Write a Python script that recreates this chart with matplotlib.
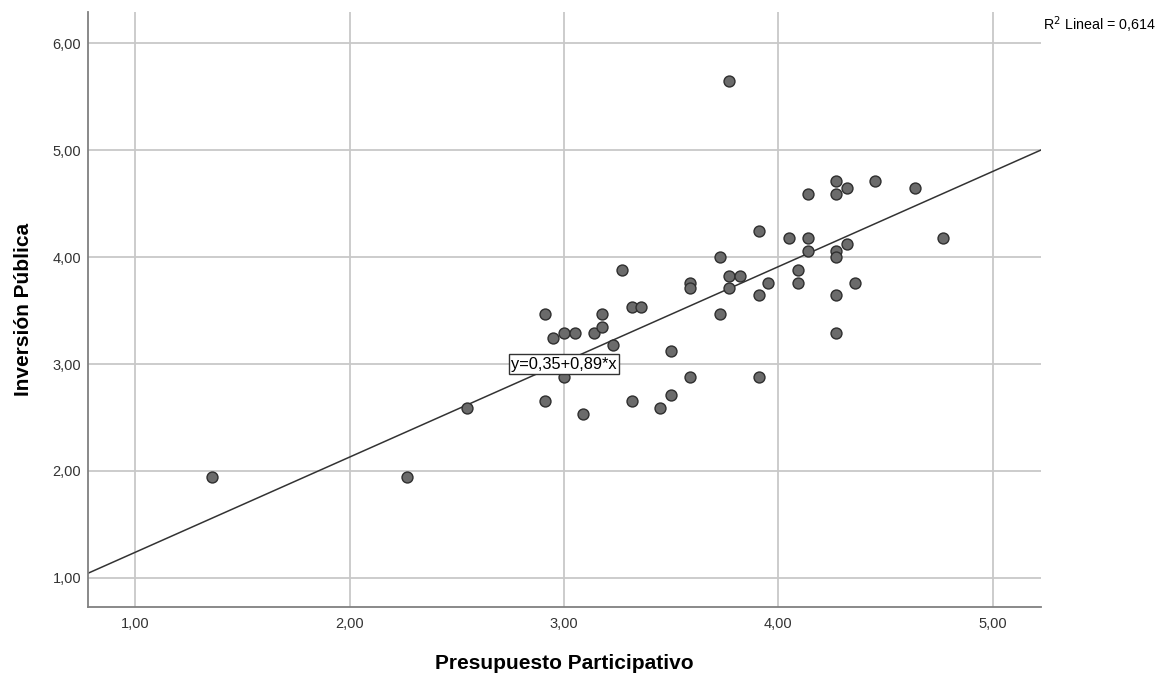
import numpy as np
import matplotlib
matplotlib.use('Agg')
import matplotlib.pyplot as plt

plt.rcParams['font.family'] = ['Liberation Sans', 'DejaVu Sans']

# Puntos del diagrama (Presupuesto Participativo vs Inversión Pública)
presupuesto = [1.36, 2.27, 2.55, 2.91, 2.91, 2.95, 3.00, 3.05, 3.00, 3.09,
               3.14, 3.18, 3.18, 3.23, 3.27, 3.32, 3.36, 3.32, 3.45, 3.50,
               3.50, 3.59, 3.59, 3.59, 3.73, 3.73, 3.77, 3.77, 3.82, 3.77,
               3.91, 3.95, 3.91, 3.91, 4.05, 4.09, 4.09, 4.14, 4.14, 4.14,
               4.27, 4.27, 4.27, 4.27, 4.27, 4.27, 4.32, 4.32, 4.36, 4.45,
               4.64, 4.77]
inversion = [1.94, 1.94, 2.59, 3.47, 2.65, 3.24, 3.29, 3.29, 2.88, 2.53,
             3.29, 3.47, 3.35, 3.18, 3.88, 3.53, 3.53, 2.65, 2.59, 3.12,
             2.71, 3.76, 3.71, 2.88, 4.00, 3.47, 5.65, 3.82, 3.82, 3.71,
             4.24, 3.76, 3.65, 2.88, 4.18, 3.88, 3.76, 4.59, 4.18, 4.06,
             4.71, 4.59, 4.06, 4.00, 3.65, 3.29, 4.65, 4.12, 3.76, 4.71,
             4.65, 4.18]

intercepto = 0.35
pendiente = 0.89
r2 = '0,614'

x_ticks = [1, 2, 3, 4, 5]
y_ticks = [1, 2, 3, 4, 5, 6]

fig = plt.figure(figsize=(11.59, 6.75), dpi=100)
ax = fig.add_axes([0.076, 0.101, 0.822, 0.881])

xlim = (0.78, 5.225)
ylim = (0.73, 6.29)

ax.set_xlim(xlim)
ax.set_ylim(ylim)
ax.set_xticks(x_ticks)
ax.set_yticks(y_ticks)
ax.set_xticklabels(['{:.2f}'.format(v).replace('.', ',') for v in x_ticks])
ax.set_yticklabels(['{:.2f}'.format(v).replace('.', ',') for v in y_ticks])
ax.tick_params(length=0, labelsize=10.5, colors='#333333')
ax.tick_params(axis='x', pad=7.5)
ax.tick_params(axis='y', pad=5)
ax.grid(color='#c8c8c8', lw=1.3)
ax.set_axisbelow(True)

for s in ['top', 'right']:
    ax.spines[s].set_visible(False)
for s in ['left', 'bottom']:
    ax.spines[s].set_color('#808080')
    ax.spines[s].set_linewidth(1.3)

# recta de ajuste
xr = np.array(xlim)
ax.plot(xr, intercepto + pendiente * xr, color='#333333', lw=1.1, zorder=2)

ax.scatter(presupuesto, inversion, s=62, facecolor='#6b6b6b',
           edgecolor='#2e2e2e', linewidth=1.0, zorder=3)

ax.text(3.0, 3.0, 'y=0,35+0,89*x', ha='center', va='center', fontsize=11.8,
        zorder=5, bbox=dict(boxstyle='square,pad=0.15', fc='white', ec='#333333', lw=1))

fig.text(0.9, 0.963, 'R$^2$ Lineal = ' + r2, fontsize=10.3, ha='left', va='center')

ax.set_xlabel('Presupuesto Participativo', fontsize=15, fontweight='bold')
ax.set_ylabel('Inversión Pública', fontsize=15, fontweight='bold')
ax.xaxis.set_label_coords(0.5, -0.08)
ax.yaxis.set_label_coords(-0.058, 0.5)

fig.savefig('out.png', dpi=100)
